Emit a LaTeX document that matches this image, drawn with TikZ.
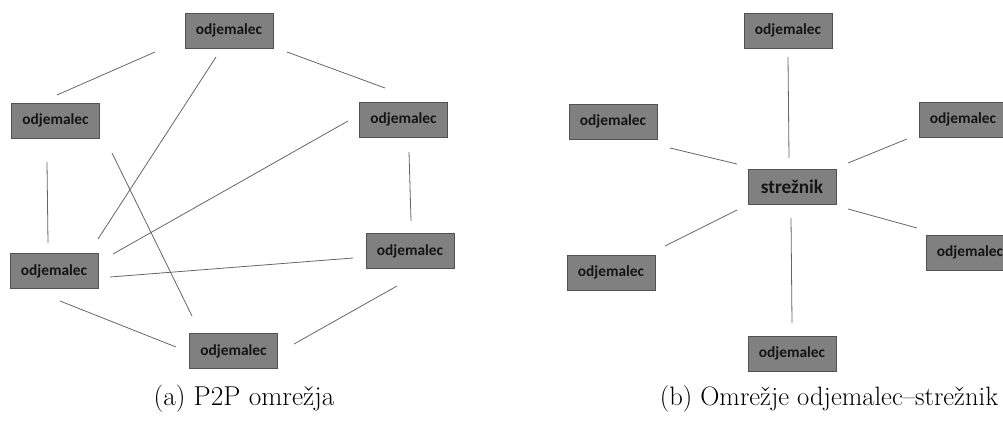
\documentclass[tikz,border=0pt]{standalone}
\usepackage{fontspec}
\newfontfamily\boxfont{Carlito}
\begin{document}
\begin{tikzpicture}[x=1pt,y=-1pt,
  client/.style={draw=black!68, fill=black!50, line width=0.9pt,
    minimum width=88pt, minimum height=35pt, inner sep=0pt,
    font=\boxfont\bfseries\fontsize{15.4}{18}\selectfont, text=black!92},
  server/.style={client, font=\boxfont\bfseries\fontsize{19.3}{22}\selectfont},
  link/.style={draw=black!60, line width=0.8pt},
  caption/.style={font=\fontsize{27.3}{32}\selectfont, anchor=base, inner sep=0pt}]
\clip (0,0) rectangle (1003,423);

% ---- (a) peer-to-peer network ----
\node[client] (p1) at (229,30.5) {odjemalec};
\node[client] (p2) at (55.5,120.5) {odjemalec};
\node[client] (p3) at (403.5,119.5) {odjemalec};
\node[client] (p4) at (54,271) {odjemalec};
\node[client] (p5) at (410,251) {odjemalec};
\node[client] (p6) at (233.5,351) {odjemalec};

\coordinate (p1-p2a) at (155,52);  \coordinate (p1-p2b) at (57,95);
\coordinate (p1-p4a) at (216,57);  \coordinate (p1-p4b) at (98,239);
\coordinate (p2-p6a) at (112,153); \coordinate (p2-p6b) at (192,316);
\coordinate (p2-p4a) at (47,162);  \coordinate (p2-p4b) at (48,243);
\coordinate (p1-p3a) at (287,52);  \coordinate (p1-p3b) at (385,88);
\coordinate (p3-p4a) at (348,121); \coordinate (p3-p4b) at (113,254);
\coordinate (p3-p5a) at (409,152); \coordinate (p3-p5b) at (411,221);
\coordinate (p4-p5a) at (110,277); \coordinate (p4-p5b) at (353,258);
\coordinate (p4-p6a) at (60,301);  \coordinate (p4-p6b) at (176,347);
\coordinate (p5-p6a) at (397,286); \coordinate (p5-p6b) at (294,344);

\draw[link] (p1-p2a) -- (p1-p2b);
\draw[link] (p1-p4a) -- (p1-p4b);
\draw[link] (p2-p6a) -- (p2-p6b);
\draw[link] (p2-p4a) -- (p2-p4b);
\draw[link] (p1-p3a) -- (p1-p3b);
\draw[link] (p3-p4a) -- (p3-p4b);
\draw[link] (p3-p5a) -- (p3-p5b);
\draw[link] (p4-p5a) -- (p4-p5b);
\draw[link] (p4-p6a) -- (p4-p6b);
\draw[link] (p5-p6a) -- (p5-p6b);

\node[caption] (capa) at (244,405) {(a) P2P omrežja};

% ---- (b) client-server network ----
\node[server] (s) at (792,187) {strežnik};
\node[client] (c1) at (788,30.5) {odjemalec};
\node[client] (c2) at (613,121.5) {odjemalec};
\node[client] (c3) at (963,119.5) {odjemalec};
\node[client] (c4) at (611,272.5) {odjemalec};
\node[client] (c5) at (970,252.5) {odjemalec};
\node[client] (c6) at (792,353.5) {odjemalec};

\coordinate (c1-sa) at (788,57);  \coordinate (c1-sb) at (789,158);
\coordinate (c2-sa) at (670,148); \coordinate (c2-sb) at (737,164);
\coordinate (c3-sa) at (907,139); \coordinate (c3-sb) at (848,163);
\coordinate (c4-sa) at (665,246); \coordinate (c4-sb) at (737,210);
\coordinate (c5-sa) at (917,228); \coordinate (c5-sb) at (848,209);
\coordinate (c6-sa) at (792,323); \coordinate (c6-sb) at (791,218);

\draw[link] (c1-sa) -- (c1-sb);
\draw[link] (c2-sa) -- (c2-sb);
\draw[link] (c3-sa) -- (c3-sb);
\draw[link] (c4-sa) -- (c4-sb);
\draw[link] (c5-sa) -- (c5-sb);
\draw[link] (c6-sa) -- (c6-sb);

\node[caption, font=\fontsize{26.6}{31}\selectfont] (capb) at (829,405) {(b) Omrežje odjemalec--strežnik};
\end{tikzpicture}
\end{document}
